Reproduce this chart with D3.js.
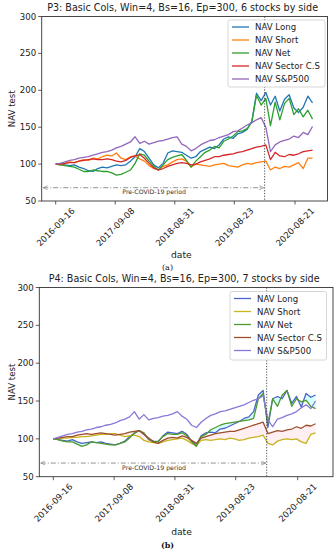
<!DOCTYPE html>
<html>
<head>
<meta charset="utf-8">
<script src="https://cdn.jsdelivr.net/npm/d3@7"></script>
<style>
body { margin: 0; background: #fff; }
svg { display: block; font-family: "DejaVu Sans", sans-serif; }
</style>
</head>
<body>
<svg id="fig" width="334" height="550"></svg>
<script>
// one value every 4 weeks, starting 2016-09-16
var startDay = "2016-09-16", stepDays = 28;

var seriesNames = ["NAV Long", "NAV Short", "NAV Net", "NAV Sector C.S", "NAV S&P500"];
var xTickLabels = ["2016-09-16", "2017-09-08", "2018-08-31", "2019-08-23", "2020-08-21"];
var yTicks = [50, 100, 150, 200, 250, 300];
var covidDate = "2020-02-21";
var arrowLabel = "Pre-COVID-19 period";
var arrowLevel = 68;

// P3 panel
var p3Long = [100,101,99,98,99,96,94,91,90,94, 96,95,97,99,98,99,104,110,121,117,
              108,99,95,101,115,118,117,116,112,108, 110,117,120,123,121,126,134,137,135,141,
              143,147,158,196,186,197,180,192,172,188, 194,176,170,177,192,183];
var p3Short = [100,99,101,103,102,104,106,105,108,107, 110,112,111,115,108,106,110,111,107,104,
               98,94,92,97,99,103,106,107,104,96, 100,99,98,97,99,100,101,98,97,96,
               99,101,100,102,103,104,92,96,94,97, 96,99,102,94,108,108];
var p3Net = [100,99,98,97,96,93,90,90,92,91, 90,90,88,85,86,89,92,101,114,112,
             104,97,92,99,106,109,111,113,105,96, 104,110,116,119,124,122,131,134,138,144,
             145,148,157,193,180,189,152,184,160,182, 189,167,175,164,173,161];
var p3Sector = [100,100,101,102,102,104,105,106,107,106, 106,107,106,104,103,105,109,111,113,108,
                101,95,92,94,97,99,101,102,101,99, 100,103,105,107,110,110,112,113,114,116,
                117,119,121,123,124,126,106,116,111,110, 113,112,114,117,118,119];
var p3SP = [100,101,103,105,106,108,109,110,112,114, 116,117,119,122,124,127,130,137,128,131,
            127,129,131,132,134,136,137,127,124,118, 121,126,129,132,133,136,138,140,144,145,
            149,153,156,160,163,150,117,126,130,132, 134,138,136,143,140,151];

// P4 panel
var p4Long = [100,99,98,97,99,96,94,95,96,95, 96,94,93,92,94,97,103,107,111,106,
              100,97,96,104,109,108,107,110,106,97, 92,104,108,109,108,113,114,117,120,123,
              127,129,136,158,164,115,153,156,153,164, 147,156,142,160,155,158];
var p4Short = [100,100,101,101,102,102,103,103,104,105, 106,106,107,107,105,103,104,105,103,98,
               96,95,94,96,98,99,100,101,98,94, 91,98,99,98,99,100,99,101,100,98,
               99,101,102,103,105,94,92,97,99,100, 99,100,96,94,106,108];
var p4Net = [100,99,97,96,96,93,90,92,96,95, 94,93,92,92,94,96,101,108,111,108,
             99,96,97,103,107,106,106,108,104,96, 90,103,106,112,115,118,120,121,122,123,
             124,125,127,153,160,120,153,143,158,164, 143,153,149,151,143,140];
var p4Sector = [100,101,102,103,103,105,106,107,106,107, 108,107,106,105,106,107,109,110,111,106,
                101,96,94,98,101,102,101,104,102,98, 94,101,103,105,107,108,109,110,110,112,
                114,116,118,120,122,107,109,111,110,112, 113,116,114,118,117,120];
var p4SP = [100,102,104,106,107,109,110,112,113,115, 116,118,119,121,124,126,129,136,126,132,
            125,127,128,130,131,133,136,130,126,118, 115,122,127,131,133,136,137,139,141,143,
            145,148,151,153,157,125,116,126,128,131, 133,136,141,145,140,150];

var parse = d3.timeParse("%Y-%m-%d");
var dates = p3Long.map(function(d, i) { return d3.timeDay.offset(parse(startDay), i * stepDays); });

var svg = d3.select("#fig");

var defs = svg.append("defs");
defs.append("marker").attr("id", "arrowHead")
    .attr("viewBox", "0 0 10 10").attr("refX", 9).attr("refY", 5)
    .attr("markerWidth", 5).attr("markerHeight", 5).attr("orient", "auto-start-reverse")
    .attr("markerUnits", "userSpaceOnUse")
    .append("path").attr("d", "M0,1 L9,5 L0,9").attr("fill", "none")
    .attr("stroke", "#888").attr("stroke-width", 1.4);

var panels = [
    {title: "P3: Basic Cols, Win=4, Bs=16, Ep=300, 6 stocks by side", tag: "(a)", tagBold: false,
     left: 41.7, right: 327.5, top: 16.5, bottom: 201, tick0: 55.7, tick4: 295,
     titleY: 10.5, tagY: 269.5, dateY: 258,
     series: [p3Long, p3Short, p3Net, p3Sector, p3SP],
     colors: ["#1f77b4", "#ff7f0e", "#2ca02c", "#d62728", "#9467bd"],
     legend: {x: 228, y: 20, w: 97, h: 67},
     fills: []},
    {title: "P4: Basic Cols, Win=4, Bs=16, Ep=300, 7 stocks by side", tag: "(b)", tagBold: true,
     left: 39.3, right: 333, top: 287.5, bottom: 476.7, tick0: 53.3, tick4: 297.7,
     titleY: 281.5, tagY: 548, dateY: 535,
     series: [p4Long, p4Short, p4Net, p4Sector, p4SP],
     colors: ["#4a63c8", "#c8b41e", "#4e9a2e", "#9c4f2a", "#8878d8"],
     legend: {x: 230, y: 291.5, w: 96.5, h: 68.5},
     fills: [{a: p4Long, b: p4Net, color: "#00ffff", op: 0.16},
             {a: p4Short, b: p4Sector, color: "#ffc0cb", op: 0.25}]}
];

panels.forEach(drawPanel);

function drawPanel(p) {
    var g = svg.append("g");
    var x = d3.scaleTime().domain([parse(xTickLabels[0]), parse(xTickLabels[4])]).range([p.tick0, p.tick4]);
    var y = d3.scaleLinear().domain([50, 300]).range([p.bottom, p.top]);

    p.fills.forEach(function(f) {
        var area = d3.area()
            .x(function(d, i) { return x(dates[i]); })
            .y0(function(d, i) { return y(f.a[i]); })
            .y1(function(d, i) { return y(f.b[i]); });
        g.append("path").attr("d", area(dates)).attr("fill", f.color).attr("fill-opacity", f.op);
    });

    p.series.forEach(function(s, k) {
        var line = d3.line()
            .x(function(d, i) { return x(dates[i]); })
            .y(function(d) { return y(d); });
        g.append("path").attr("d", line(s)).attr("fill", "none")
            .attr("stroke", p.colors[k]).attr("stroke-width", 1.3).attr("stroke-linejoin", "round");
    });

    // covid marker
    var cx = x(parse(covidDate));
    g.append("line").attr("x1", cx).attr("x2", cx).attr("y1", p.top).attr("y2", p.bottom)
        .attr("stroke", "#333").attr("stroke-width", 0.9).attr("stroke-dasharray", "1.2,1.6");

    // pre-covid span arrow
    g.append("line").attr("x1", p.left + 1.5).attr("x2", cx - 1).attr("y1", y(arrowLevel)).attr("y2", y(arrowLevel))
        .attr("stroke", "#888").attr("stroke-width", 0.9).attr("stroke-dasharray", "5,2,1,2")
        .attr("marker-start", "url(#arrowHead)").attr("marker-end", "url(#arrowHead)");
    g.append("text").attr("x", (p.left + cx) / 2 + 1).attr("y", y(arrowLevel) + 6.5)
        .attr("text-anchor", "middle").attr("font-size", 6.2).attr("fill", "#333").text(arrowLabel);

    // frame
    g.append("rect").attr("x", p.left).attr("y", p.top)
        .attr("width", p.right - p.left).attr("height", p.bottom - p.top)
        .attr("fill", "none").attr("stroke", "#333").attr("stroke-width", 0.9);

    // y ticks
    yTicks.forEach(function(t) {
        g.append("line").attr("x1", p.left - 3.5).attr("x2", p.left).attr("y1", y(t)).attr("y2", y(t))
            .attr("stroke", "#333").attr("stroke-width", 0.8);
        g.append("text").attr("x", p.left - 5.5).attr("y", y(t)).attr("dy", "0.35em")
            .attr("text-anchor", "end").attr("font-size", 8.6).attr("fill", "#222").text(t);
    });

    // x ticks
    xTickLabels.forEach(function(t) {
        var tx = x(parse(t));
        g.append("line").attr("x1", tx).attr("x2", tx).attr("y1", p.bottom).attr("y2", p.bottom + 3.5)
            .attr("stroke", "#333").attr("stroke-width", 0.8);
        var cy = p.bottom + 26;
        g.append("text").attr("x", tx).attr("y", cy).attr("dy", "0.35em")
            .attr("text-anchor", "middle").attr("font-size", 8.6).attr("fill", "#222")
            .attr("transform", "rotate(-45," + tx + "," + cy + ")").text(t);
    });

    // labels
    g.append("text").attr("x", (p.left + p.right) / 2 - 2).attr("y", p.titleY)
        .attr("text-anchor", "middle").attr("font-size", 9.6).attr("fill", "#222").text(p.title);
    g.append("text").attr("x", (p.tick0 + p.tick4) / 2 + 6).attr("y", p.dateY)
        .attr("text-anchor", "middle").attr("font-size", 9.2).attr("fill", "#222").text("date");
    var ly = (p.top + p.bottom) / 2;
    g.append("text").attr("x", 12).attr("y", ly).attr("dy", "0.35em")
        .attr("text-anchor", "middle").attr("font-size", 8.6).attr("fill", "#222")
        .attr("transform", "rotate(-90,12," + ly + ")").text("NAV test");
    g.append("text").attr("x", 167.5).attr("y", p.tagY)
        .attr("text-anchor", "middle").attr("font-size", 8)
        .attr("font-family", "'DejaVu Serif', serif").attr("font-weight", p.tagBold ? "bold" : "normal")
        .attr("fill", "#111").text(p.tag);

    // legend
    var L = p.legend;
    g.append("rect").attr("x", L.x).attr("y", L.y).attr("width", L.w).attr("height", L.h)
        .attr("rx", 2).attr("fill", "#fff").attr("fill-opacity", 0.8)
        .attr("stroke", "#ccc").attr("stroke-width", 0.8);
    seriesNames.forEach(function(n, k) {
        var ey = L.y + 7 + k * 13;
        g.append("line").attr("x1", L.x + 4).attr("x2", L.x + 21).attr("y1", ey).attr("y2", ey)
            .attr("stroke", p.colors[k]).attr("stroke-width", 1.3);
        g.append("text").attr("x", L.x + 27).attr("y", ey).attr("dy", "0.35em")
            .attr("font-size", 8.6).attr("fill", "#222").text(n);
    });
}
</script>
</body>
</html>
